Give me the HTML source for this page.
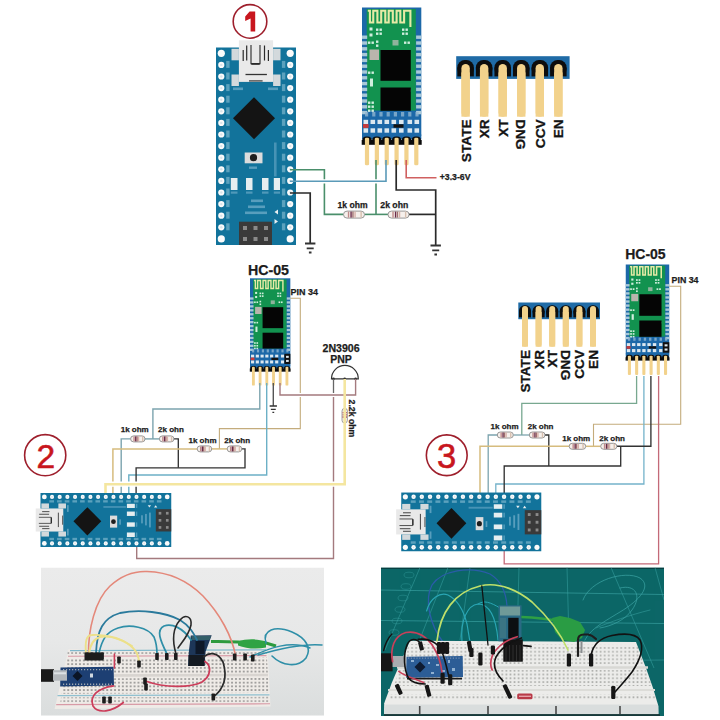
<!DOCTYPE html><html><head><meta charset="utf-8"><style>html,body{margin:0;padding:0;background:#fff;overflow:hidden;}svg{display:block;}</style></head><body>
<svg width="720" height="720" viewBox="0 0 720 720">
<defs>
<g id="nano">
<rect x="0" y="0" width="80" height="197.5" fill="#12739b"/>
<rect x="15.5" y="1.3" width="7.4" height="11.5" fill="#d3d9dc"/>
<rect x="57.1" y="1.3" width="7.4" height="11.5" fill="#d3d9dc"/>
<rect x="15.5" y="27" width="7.4" height="11.5" fill="#d3d9dc"/>
<rect x="57.1" y="27" width="7.4" height="11.5" fill="#d3d9dc"/>
<rect x="22.9" y="-7.2" width="34.2" height="41.6" fill="#e9e9e9"/>
<path d="M27.2,2.5 v11 M30.7,-2 v15 M48.5,-2 v15 M52.4,2.5 v11" stroke="#2a2a2a" stroke-width="1.2" fill="none"/>
<path d="M35,-2.5 V16.2 H44 V-2.5" stroke="#2a2a2a" stroke-width="1.1" fill="none"/>
<path d="M35.3,16.4 H43.7" stroke="#2a2a2a" stroke-width="1.8"/>
<path d="M29.5,27 H50.9" stroke="#333" stroke-width="1.3"/>
<path d="M33,33.4 H46.6" stroke="#444" stroke-width="1.3"/>
<circle cx="5.3" cy="5.80" r="3.6" fill="#fbfbfb"/>
<circle cx="74.2" cy="5.80" r="3.6" fill="#fbfbfb"/>
<circle cx="5.3" cy="17.40" r="3.1" fill="#fbfbfb"/>
<circle cx="5.3" cy="17.40" r="1.2" fill="#d9e4ea"/>
<circle cx="74.2" cy="17.40" r="3.1" fill="#fbfbfb"/>
<circle cx="74.2" cy="17.40" r="1.2" fill="#d9e4ea"/>
<circle cx="5.3" cy="29.00" r="3.1" fill="#fbfbfb"/>
<circle cx="5.3" cy="29.00" r="1.2" fill="#d9e4ea"/>
<circle cx="74.2" cy="29.00" r="3.1" fill="#fbfbfb"/>
<circle cx="74.2" cy="29.00" r="1.2" fill="#d9e4ea"/>
<circle cx="5.3" cy="40.60" r="3.1" fill="#fbfbfb"/>
<circle cx="5.3" cy="40.60" r="1.2" fill="#d9e4ea"/>
<circle cx="74.2" cy="40.60" r="3.1" fill="#fbfbfb"/>
<circle cx="74.2" cy="40.60" r="1.2" fill="#d9e4ea"/>
<circle cx="5.3" cy="52.20" r="3.1" fill="#fbfbfb"/>
<circle cx="5.3" cy="52.20" r="1.2" fill="#d9e4ea"/>
<circle cx="74.2" cy="52.20" r="3.1" fill="#fbfbfb"/>
<circle cx="74.2" cy="52.20" r="1.2" fill="#d9e4ea"/>
<circle cx="5.3" cy="63.80" r="3.1" fill="#fbfbfb"/>
<circle cx="5.3" cy="63.80" r="1.2" fill="#d9e4ea"/>
<circle cx="74.2" cy="63.80" r="3.1" fill="#fbfbfb"/>
<circle cx="74.2" cy="63.80" r="1.2" fill="#d9e4ea"/>
<circle cx="5.3" cy="75.40" r="3.1" fill="#fbfbfb"/>
<circle cx="5.3" cy="75.40" r="1.2" fill="#d9e4ea"/>
<circle cx="74.2" cy="75.40" r="3.1" fill="#fbfbfb"/>
<circle cx="74.2" cy="75.40" r="1.2" fill="#d9e4ea"/>
<circle cx="5.3" cy="87.00" r="3.1" fill="#fbfbfb"/>
<circle cx="5.3" cy="87.00" r="1.2" fill="#d9e4ea"/>
<circle cx="74.2" cy="87.00" r="3.1" fill="#fbfbfb"/>
<circle cx="74.2" cy="87.00" r="1.2" fill="#d9e4ea"/>
<circle cx="5.3" cy="98.60" r="3.1" fill="#fbfbfb"/>
<circle cx="5.3" cy="98.60" r="1.2" fill="#d9e4ea"/>
<circle cx="74.2" cy="98.60" r="3.1" fill="#fbfbfb"/>
<circle cx="74.2" cy="98.60" r="1.2" fill="#d9e4ea"/>
<circle cx="5.3" cy="110.20" r="3.1" fill="#fbfbfb"/>
<circle cx="5.3" cy="110.20" r="1.2" fill="#d9e4ea"/>
<circle cx="74.2" cy="110.20" r="3.1" fill="#fbfbfb"/>
<circle cx="74.2" cy="110.20" r="1.2" fill="#d9e4ea"/>
<circle cx="5.3" cy="121.80" r="3.1" fill="#fbfbfb"/>
<circle cx="5.3" cy="121.80" r="1.2" fill="#d9e4ea"/>
<circle cx="74.2" cy="121.80" r="3.1" fill="#fbfbfb"/>
<circle cx="74.2" cy="121.80" r="1.2" fill="#d9e4ea"/>
<circle cx="5.3" cy="133.40" r="3.1" fill="#fbfbfb"/>
<circle cx="5.3" cy="133.40" r="1.2" fill="#d9e4ea"/>
<circle cx="74.2" cy="133.40" r="3.1" fill="#fbfbfb"/>
<circle cx="74.2" cy="133.40" r="1.2" fill="#d9e4ea"/>
<circle cx="5.3" cy="145.00" r="3.1" fill="#fbfbfb"/>
<circle cx="5.3" cy="145.00" r="1.2" fill="#d9e4ea"/>
<circle cx="74.2" cy="145.00" r="3.1" fill="#fbfbfb"/>
<circle cx="74.2" cy="145.00" r="1.2" fill="#d9e4ea"/>
<circle cx="5.3" cy="156.60" r="3.1" fill="#fbfbfb"/>
<circle cx="5.3" cy="156.60" r="1.2" fill="#d9e4ea"/>
<circle cx="74.2" cy="156.60" r="3.1" fill="#fbfbfb"/>
<circle cx="74.2" cy="156.60" r="1.2" fill="#d9e4ea"/>
<circle cx="5.3" cy="168.20" r="3.1" fill="#fbfbfb"/>
<circle cx="5.3" cy="168.20" r="1.2" fill="#d9e4ea"/>
<circle cx="74.2" cy="168.20" r="3.1" fill="#fbfbfb"/>
<circle cx="74.2" cy="168.20" r="1.2" fill="#d9e4ea"/>
<circle cx="5.3" cy="179.80" r="3.1" fill="#fbfbfb"/>
<circle cx="5.3" cy="179.80" r="1.2" fill="#d9e4ea"/>
<circle cx="74.2" cy="179.80" r="3.1" fill="#fbfbfb"/>
<circle cx="74.2" cy="179.80" r="1.2" fill="#d9e4ea"/>
<circle cx="5.3" cy="191.40" r="3.6" fill="#fbfbfb"/>
<circle cx="74.2" cy="191.40" r="3.6" fill="#fbfbfb"/>
<rect x="10.2" y="13.40" width="3.4" height="7" fill="#74b0c8" opacity="0.75"/>
<rect x="65.9" y="13.40" width="3.4" height="7" fill="#74b0c8" opacity="0.75"/>
<rect x="10.2" y="25.00" width="3.4" height="7" fill="#74b0c8" opacity="0.75"/>
<rect x="65.9" y="25.00" width="3.4" height="7" fill="#74b0c8" opacity="0.75"/>
<rect x="10.2" y="36.60" width="3.4" height="7" fill="#74b0c8" opacity="0.75"/>
<rect x="65.9" y="36.60" width="3.4" height="7" fill="#74b0c8" opacity="0.75"/>
<rect x="10.2" y="48.20" width="3.4" height="7" fill="#74b0c8" opacity="0.75"/>
<rect x="65.9" y="48.20" width="3.4" height="7" fill="#74b0c8" opacity="0.75"/>
<rect x="10.2" y="59.80" width="3.4" height="7" fill="#74b0c8" opacity="0.75"/>
<rect x="65.9" y="59.80" width="3.4" height="7" fill="#74b0c8" opacity="0.75"/>
<rect x="10.2" y="71.40" width="3.4" height="7" fill="#74b0c8" opacity="0.75"/>
<rect x="65.9" y="71.40" width="3.4" height="7" fill="#74b0c8" opacity="0.75"/>
<rect x="10.2" y="83.00" width="3.4" height="7" fill="#74b0c8" opacity="0.75"/>
<rect x="65.9" y="83.00" width="3.4" height="7" fill="#74b0c8" opacity="0.75"/>
<rect x="10.2" y="94.60" width="3.4" height="7" fill="#74b0c8" opacity="0.75"/>
<rect x="65.9" y="94.60" width="3.4" height="7" fill="#74b0c8" opacity="0.75"/>
<rect x="10.2" y="106.20" width="3.4" height="7" fill="#74b0c8" opacity="0.75"/>
<rect x="65.9" y="106.20" width="3.4" height="7" fill="#74b0c8" opacity="0.75"/>
<rect x="10.2" y="117.80" width="3.4" height="7" fill="#74b0c8" opacity="0.75"/>
<rect x="65.9" y="117.80" width="3.4" height="7" fill="#74b0c8" opacity="0.75"/>
<rect x="10.2" y="129.40" width="3.4" height="7" fill="#74b0c8" opacity="0.75"/>
<rect x="65.9" y="129.40" width="3.4" height="7" fill="#74b0c8" opacity="0.75"/>
<rect x="10.2" y="141.00" width="3.4" height="7" fill="#74b0c8" opacity="0.75"/>
<rect x="65.9" y="141.00" width="3.4" height="7" fill="#74b0c8" opacity="0.75"/>
<rect x="10.2" y="152.60" width="3.4" height="7" fill="#74b0c8" opacity="0.75"/>
<rect x="65.9" y="152.60" width="3.4" height="7" fill="#74b0c8" opacity="0.75"/>
<rect x="10.2" y="164.20" width="3.4" height="7" fill="#74b0c8" opacity="0.75"/>
<rect x="65.9" y="164.20" width="3.4" height="7" fill="#74b0c8" opacity="0.75"/>
<rect x="10.2" y="175.80" width="3.4" height="7" fill="#74b0c8" opacity="0.75"/>
<rect x="65.9" y="175.80" width="3.4" height="7" fill="#74b0c8" opacity="0.75"/>
<rect x="17" y="40" width="10" height="2.6" fill="#6aa9c6" opacity="0.8"/>
<rect x="52" y="40" width="10" height="2.6" fill="#6aa9c6" opacity="0.8"/>
<polygon points="38,49.8 59,70.8 38,91.8 17,70.8" fill="#141414"/>
<rect x="28.7" y="105" width="17.8" height="10.8" fill="#dcdcdc"/>
<circle cx="37.5" cy="110.2" r="3.6" fill="#1e1e1e"/>
<rect x="33" y="119" width="8" height="2.4" fill="#6aa9c6" opacity="0.8"/>
<rect x="58" y="95" width="2.6" height="34" fill="#6aa9c6" opacity="0.6"/>
<rect x="14.8" y="130.5" width="6.699999999999999" height="12" fill="#e6eef0"/>
<rect x="14.8" y="144" width="6.699999999999999" height="2.2" fill="#6aa9c6" opacity="0.7"/>
<rect x="30" y="130.5" width="6.5" height="12" fill="#e6eef0"/>
<rect x="30" y="144" width="6.5" height="2.2" fill="#6aa9c6" opacity="0.7"/>
<rect x="46" y="130.5" width="6.5" height="12" fill="#e6eef0"/>
<rect x="46" y="144" width="6.5" height="2.2" fill="#6aa9c6" opacity="0.7"/>
<rect x="57.8" y="130.5" width="6.200000000000003" height="12" fill="#e6eef0"/>
<rect x="57.8" y="144" width="6.200000000000003" height="2.2" fill="#6aa9c6" opacity="0.7"/>
<rect x="35" y="152" width="12" height="2.6" fill="#6aa9c6" opacity="0.8"/>
<rect x="32" y="158" width="17" height="2.6" fill="#6aa9c6" opacity="0.8"/>
<rect x="29" y="164" width="22" height="2.6" fill="#6aa9c6" opacity="0.8"/>
<polygon points="58.5,164.5 62,162 62,167" fill="#e8eef0"/>
<polygon points="62,174 58.5,171.5 58.5,176.5" fill="#e8eef0"/>
<rect x="23" y="174.2" width="33" height="23.3" fill="#3a3a3a"/>
<rect x="27" y="178.5" width="4" height="4" fill="#8a8a8a"/>
<rect x="27" y="189.5" width="4" height="4" fill="#8a8a8a"/>
<rect x="37.5" y="178.5" width="4" height="4" fill="#8a8a8a"/>
<rect x="37.5" y="189.5" width="4" height="4" fill="#8a8a8a"/>
<rect x="48" y="178.5" width="4" height="4" fill="#8a8a8a"/>
<rect x="48" y="189.5" width="4" height="4" fill="#8a8a8a"/>
</g>
<g id="hc">
<rect x="0" y="0" width="59.3" height="128.3" fill="#1c68a8"/>
<rect x="4.7" y="1.5" width="49.1" height="101.5" fill="#12924f"/>
<rect x="0" y="28.00" width="5.2" height="3.4" fill="#a8c8d8"/>
<rect x="54.1" y="28.00" width="5.2" height="3.4" fill="#a8c8d8"/>
<rect x="0" y="33.80" width="5.2" height="3.4" fill="#a8c8d8"/>
<rect x="54.1" y="33.80" width="5.2" height="3.4" fill="#a8c8d8"/>
<rect x="0" y="39.60" width="5.2" height="3.4" fill="#a8c8d8"/>
<rect x="54.1" y="39.60" width="5.2" height="3.4" fill="#a8c8d8"/>
<rect x="0" y="45.40" width="5.2" height="3.4" fill="#a8c8d8"/>
<rect x="54.1" y="45.40" width="5.2" height="3.4" fill="#a8c8d8"/>
<rect x="0" y="51.20" width="5.2" height="3.4" fill="#a8c8d8"/>
<rect x="54.1" y="51.20" width="5.2" height="3.4" fill="#a8c8d8"/>
<rect x="0" y="57.00" width="5.2" height="3.4" fill="#a8c8d8"/>
<rect x="54.1" y="57.00" width="5.2" height="3.4" fill="#a8c8d8"/>
<rect x="0" y="62.80" width="5.2" height="3.4" fill="#a8c8d8"/>
<rect x="54.1" y="62.80" width="5.2" height="3.4" fill="#a8c8d8"/>
<rect x="0" y="68.60" width="5.2" height="3.4" fill="#a8c8d8"/>
<rect x="54.1" y="68.60" width="5.2" height="3.4" fill="#a8c8d8"/>
<rect x="0" y="74.40" width="5.2" height="3.4" fill="#a8c8d8"/>
<rect x="54.1" y="74.40" width="5.2" height="3.4" fill="#a8c8d8"/>
<rect x="0" y="80.20" width="5.2" height="3.4" fill="#a8c8d8"/>
<rect x="54.1" y="80.20" width="5.2" height="3.4" fill="#a8c8d8"/>
<rect x="0" y="86.00" width="5.2" height="3.4" fill="#a8c8d8"/>
<rect x="54.1" y="86.00" width="5.2" height="3.4" fill="#a8c8d8"/>
<rect x="0" y="91.80" width="5.2" height="3.4" fill="#a8c8d8"/>
<rect x="54.1" y="91.80" width="5.2" height="3.4" fill="#a8c8d8"/>
<rect x="0" y="97.60" width="5.2" height="3.4" fill="#a8c8d8"/>
<rect x="54.1" y="97.60" width="5.2" height="3.4" fill="#a8c8d8"/>
<rect x="0" y="103.40" width="5.2" height="3.4" fill="#a8c8d8"/>
<rect x="54.1" y="103.40" width="5.2" height="3.4" fill="#a8c8d8"/>
<path d="M5.8,3.3 H7.9 V15 H11.25 V3.3 H15.4 V15 H19.2 V3.3 H23.3 V15 H26.7 V3.3 H30.8 V15 H34.6 V3.3 H38.3 V15 H42.1 V3.3 H48.4 V15 V19.5" stroke="#e6eaa6" stroke-width="2.1" fill="none" stroke-linejoin="miter"/>
<rect x="7.5" y="20" width="3" height="3" fill="#cfeedd"/>
<rect x="7.5" y="26" width="3" height="3" fill="#cfeedd"/>
<rect x="14" y="21" width="2.4" height="2.4" fill="#cfeedd"/>
<rect x="17.5" y="21" width="2.4" height="2.4" fill="#cfeedd"/>
<rect x="14" y="25" width="2.4" height="2.4" fill="#cfeedd"/>
<rect x="17.5" y="25" width="2.4" height="2.4" fill="#cfeedd"/>
<rect x="40" y="21" width="2.4" height="2.4" fill="#cfeedd"/>
<rect x="43.5" y="21" width="2.4" height="2.4" fill="#cfeedd"/>
<rect x="40" y="25" width="2.4" height="2.4" fill="#cfeedd"/>
<rect x="43.5" y="25" width="2.4" height="2.4" fill="#cfeedd"/>
<rect x="6" y="34" width="2.4" height="2.4" fill="#cfeedd"/>
<rect x="9.5" y="34" width="2.4" height="2.4" fill="#cfeedd"/>
<rect x="14" y="33" width="2.4" height="2.4" fill="#cfeedd"/>
<rect x="14" y="37" width="2.4" height="2.4" fill="#cfeedd"/>
<rect x="42" y="34" width="2.4" height="2.4" fill="#cfeedd"/>
<rect x="45.5" y="34" width="2.4" height="2.4" fill="#cfeedd"/>
<rect x="6" y="64" width="2.4" height="2.4" fill="#cfeedd"/>
<rect x="9.5" y="64" width="2.4" height="2.4" fill="#cfeedd"/>
<rect x="8" y="71" width="3" height="8" fill="#cfeedd"/>
<rect x="22" y="82" width="2.4" height="2.4" fill="#cfeedd"/>
<rect x="26" y="82" width="2.4" height="2.4" fill="#cfeedd"/>
<rect x="32" y="82" width="2.4" height="2.4" fill="#cfeedd"/>
<rect x="36" y="82" width="2.4" height="2.4" fill="#cfeedd"/>
<rect x="42" y="82" width="2.4" height="2.4" fill="#cfeedd"/>
<rect x="46" y="82" width="2.4" height="2.4" fill="#cfeedd"/>
<rect x="6" y="94" width="2.4" height="2.4" fill="#cfeedd"/>
<rect x="9.5" y="94" width="2.4" height="2.4" fill="#cfeedd"/>
<rect x="6" y="98" width="2.4" height="2.4" fill="#cfeedd"/>
<rect x="9.5" y="98" width="2.4" height="2.4" fill="#cfeedd"/>
<rect x="6" y="102" width="2.4" height="2.4" fill="#cfeedd"/>
<rect x="9.5" y="102" width="2.4" height="2.4" fill="#cfeedd"/>
<rect x="30.5" y="32.5" width="6" height="5.5" fill="#8fb39c"/>
<rect x="7.5" y="42" width="9.5" height="10.5" fill="#b9b5ad"/>
<rect x="18.5" y="42.5" width="30.3" height="30.8" fill="#050505"/>
<rect x="18.5" y="80" width="30.3" height="23.3" fill="#050505"/>
<rect x="3.00" y="104.5" width="3.2" height="4.5" fill="#8fb4cf" opacity="0.8"/>
<rect x="10.20" y="104.5" width="3.2" height="4.5" fill="#8fb4cf" opacity="0.8"/>
<rect x="17.40" y="104.5" width="3.2" height="4.5" fill="#8fb4cf" opacity="0.8"/>
<rect x="24.60" y="104.5" width="3.2" height="4.5" fill="#8fb4cf" opacity="0.8"/>
<rect x="31.80" y="104.5" width="3.2" height="4.5" fill="#8fb4cf" opacity="0.8"/>
<rect x="39.00" y="104.5" width="3.2" height="4.5" fill="#8fb4cf" opacity="0.8"/>
<rect x="46.20" y="104.5" width="3.2" height="4.5" fill="#8fb4cf" opacity="0.8"/>
<rect x="53.40" y="104.5" width="3.2" height="4.5" fill="#8fb4cf" opacity="0.8"/>
<rect x="1.5" y="112.3" width="4.6" height="4.2" fill="#dce8f0"/>
<rect x="1.5" y="120.8" width="4.6" height="4.4" fill="#dce8f0"/>
<rect x="8.5" y="112.3" width="4.6" height="4.2" fill="#dce8f0"/>
<rect x="8.5" y="120.8" width="4.6" height="4.4" fill="#dce8f0"/>
<rect x="15.5" y="112.3" width="4.6" height="4.2" fill="#dce8f0"/>
<rect x="15.5" y="120.8" width="4.6" height="4.4" fill="#dce8f0"/>
<rect x="22.5" y="112.3" width="4.6" height="4.2" fill="#dce8f0"/>
<rect x="22.5" y="120.8" width="4.6" height="4.4" fill="#dce8f0"/>
<rect x="29.5" y="112.3" width="4.6" height="4.2" fill="#dce8f0"/>
<rect x="29.5" y="120.8" width="4.6" height="4.4" fill="#dce8f0"/>
<rect x="37" y="112.3" width="4.6" height="4.2" fill="#dce8f0"/>
<rect x="37" y="120.8" width="4.6" height="4.4" fill="#dce8f0"/>
<rect x="45.5" y="112.3" width="4.6" height="4.2" fill="#dce8f0"/>
<rect x="45.5" y="120.8" width="4.6" height="4.4" fill="#dce8f0"/>
<rect x="52.5" y="112.3" width="4.6" height="4.2" fill="#dce8f0"/>
<rect x="52.5" y="120.8" width="4.6" height="4.4" fill="#dce8f0"/>
<rect x="1" y="116.6" width="5.6" height="3.8" fill="#c83a3a"/>
<rect x="31.5" y="116.8" width="10" height="3.4" fill="#111"/>
<rect x="0" y="127" width="59.3" height="5" fill="#1c68a8"/>
<rect x="-0.3" y="132.5" width="60" height="4.8" fill="#0c0c0c"/>
<rect x="0.30" y="129" width="9.4" height="8" rx="4.2" fill="#0c0c0c"/>
<rect x="10.16" y="129" width="9.4" height="8" rx="4.2" fill="#0c0c0c"/>
<rect x="20.02" y="129" width="9.4" height="8" rx="4.2" fill="#0c0c0c"/>
<rect x="29.88" y="129" width="9.4" height="8" rx="4.2" fill="#0c0c0c"/>
<rect x="39.74" y="129" width="9.4" height="8" rx="4.2" fill="#0c0c0c"/>
<rect x="49.60" y="129" width="9.4" height="8" rx="4.2" fill="#0c0c0c"/>
<rect x="2.90" y="130.2" width="4.2" height="27.6" rx="1.4" fill="#f2d28c"/>
<rect x="12.76" y="130.2" width="4.2" height="27.6" rx="1.4" fill="#f2d28c"/>
<rect x="22.62" y="130.2" width="4.2" height="27.6" rx="1.4" fill="#f2d28c"/>
<rect x="32.48" y="130.2" width="4.2" height="27.6" rx="1.4" fill="#f2d28c"/>
<rect x="42.34" y="130.2" width="4.2" height="27.6" rx="1.4" fill="#f2d28c"/>
<rect x="52.20" y="130.2" width="4.2" height="27.6" rx="1.4" fill="#f2d28c"/>
</g>
<g id="hcx"><rect x="50.6" y="111" width="8.8" height="15" fill="#101010"/><rect x="53" y="114" width="4" height="3" fill="#dce8f0"/><rect x="53" y="120" width="4" height="3" fill="#dce8f0"/></g>
</defs>
<rect width="720" height="720" fill="#ffffff"/>
<circle cx="250" cy="21.4" r="16.8" fill="none" stroke="#9e1f2c" stroke-width="1.6"/>
<polygon points="249.6,11.6 255.2,11.6 255.2,31.6 250.6,31.6 250.6,18.6 245.2,21 245.2,16.6" fill="#c8161e"/>
<use href="#nano" transform="translate(216,47.5)"/>
<use href="#hc" transform="translate(362,7.5)"/>
<path d="M376,160 L376,214.4" stroke="#4a8f6b" stroke-width="1.6" fill="none" stroke-linejoin="miter"/>
<path d="M290,169.7 L324.4,169.7 L324.4,214.4 L343.5,214.4" stroke="#4a8f6b" stroke-width="1.6" fill="none" stroke-linejoin="miter"/>
<path d="M364.5,214.4 L388,214.4" stroke="#4a8f6b" stroke-width="1.6" fill="none" stroke-linejoin="miter"/>
<path d="M300,181.3 L383,181.3" stroke="#ffffff" stroke-width="4.2" fill="none"/><path d="M290,181.3 L386,181.3 L386,160" stroke="#5a9ab8" stroke-width="1.6" fill="none" stroke-linejoin="miter"/>
<path d="M290,193 L310.2,193 L310.2,243.5" stroke="#2a2a2a" stroke-width="1.7" fill="none" stroke-linejoin="miter"/>
<path d="M305.0,243.5 h10.4 M306.7,248.4 h7.0 M308.9,252.5 h2.6" stroke="#333" stroke-width="1.8"/>
<path d="M396.2,160 L396.2,190 L435.7,190 L435.7,245.5" stroke="#2a2a2a" stroke-width="1.7" fill="none" stroke-linejoin="miter"/>
<path d="M430.5,245.5 h10.4 M432.2,250.4 h7.0 M434.4,254.5 h2.6" stroke="#333" stroke-width="1.8"/>
<path d="M409,214.4 L435.7,214.4" stroke="#2a2a2a" stroke-width="1.7" fill="none" stroke-linejoin="miter"/>
<path d="M406.2,160 L406.2,177.8 L436.5,177.8" stroke="#d06060" stroke-width="1.6" fill="none" stroke-linejoin="miter"/>
<rect x="343.5" y="211.1" width="21.0" height="7" rx="3.5" fill="#f6f0ec" stroke="#8c8c8c" stroke-width="0.9"/>
<rect x="347.84" y="211.6" width="1.4" height="6" fill="#c08a8a"/>
<rect x="350.36" y="211.6" width="1.4" height="6" fill="#6a2a4a"/>
<rect x="352.25" y="211.6" width="1.4" height="6" fill="#a07070"/>
<rect x="354.35" y="211.6" width="1.4" height="6" fill="#d8b0a8"/>
<rect x="360.44" y="211.6" width="1.4" height="6" fill="#d8c0b0"/>
<rect x="388" y="211.1" width="21" height="7" rx="3.5" fill="#f6f0ec" stroke="#8c8c8c" stroke-width="0.9"/>
<rect x="392.34" y="211.6" width="1.4" height="6" fill="#c08a8a"/>
<rect x="394.86" y="211.6" width="1.4" height="6" fill="#6a2a4a"/>
<rect x="396.75" y="211.6" width="1.4" height="6" fill="#a07070"/>
<rect x="398.85" y="211.6" width="1.4" height="6" fill="#d8b0a8"/>
<rect x="404.94" y="211.6" width="1.4" height="6" fill="#d8c0b0"/>
<text x="352.6" y="208" font-family='"Liberation Sans", sans-serif' font-weight="bold" font-size="8.6" fill="#1c1c1c" stroke="#1c1c1c" stroke-width="0.25" text-anchor="middle" >1k ohm</text>
<text x="394.3" y="208" font-family='"Liberation Sans", sans-serif' font-weight="bold" font-size="8.7" fill="#1c1c1c" stroke="#1c1c1c" stroke-width="0.25" text-anchor="middle" >2k ohn</text>
<text x="439.8" y="179.8" font-family='"Liberation Sans", sans-serif' font-weight="bold" font-size="8.7" fill="#1c1c1c" stroke="#1c1c1c" stroke-width="0.25" text-anchor="start" >+3.3-6V</text>
<rect x="456.2" y="56.2" width="113.4" height="22.7" fill="#1f6ba6"/>
<rect x="457.35" y="60.06" width="16.50" height="16.34" rx="7.42" fill="#0d0d0d"/>
<rect x="457.35" y="67.55" width="16.50" height="8.85" fill="#0d0d0d"/>
<rect x="475.90" y="60.06" width="16.50" height="16.34" rx="7.42" fill="#0d0d0d"/>
<rect x="475.90" y="67.55" width="16.50" height="8.85" fill="#0d0d0d"/>
<rect x="494.45" y="60.06" width="16.50" height="16.34" rx="7.42" fill="#0d0d0d"/>
<rect x="494.45" y="67.55" width="16.50" height="8.85" fill="#0d0d0d"/>
<rect x="513.00" y="60.06" width="16.50" height="16.34" rx="7.42" fill="#0d0d0d"/>
<rect x="513.00" y="67.55" width="16.50" height="8.85" fill="#0d0d0d"/>
<rect x="531.55" y="60.06" width="16.50" height="16.34" rx="7.42" fill="#0d0d0d"/>
<rect x="531.55" y="67.55" width="16.50" height="8.85" fill="#0d0d0d"/>
<rect x="550.10" y="60.06" width="16.50" height="16.34" rx="7.42" fill="#0d0d0d"/>
<rect x="550.10" y="67.55" width="16.50" height="8.85" fill="#0d0d0d"/>
<rect x="461.40" y="64" width="8.4" height="52.7" rx="4.20" fill="#f2d28c"/>
<rect x="461.40" y="72.4" width="8.4" height="44.300000000000004" fill="#f2d28c"/>
<rect x="479.95" y="64" width="8.4" height="52.7" rx="4.20" fill="#f2d28c"/>
<rect x="479.95" y="72.4" width="8.4" height="44.300000000000004" fill="#f2d28c"/>
<rect x="498.50" y="64" width="8.4" height="52.7" rx="4.20" fill="#f2d28c"/>
<rect x="498.50" y="72.4" width="8.4" height="44.300000000000004" fill="#f2d28c"/>
<rect x="517.05" y="64" width="8.4" height="52.7" rx="4.20" fill="#f2d28c"/>
<rect x="517.05" y="72.4" width="8.4" height="44.300000000000004" fill="#f2d28c"/>
<rect x="535.60" y="64" width="8.4" height="52.7" rx="4.20" fill="#f2d28c"/>
<rect x="535.60" y="72.4" width="8.4" height="44.300000000000004" fill="#f2d28c"/>
<rect x="554.15" y="64" width="8.4" height="52.7" rx="4.20" fill="#f2d28c"/>
<rect x="554.15" y="72.4" width="8.4" height="44.300000000000004" fill="#f2d28c"/>
<text x="0" y="0" transform="translate(470.59,119.3) rotate(-90)" text-anchor="end" font-family='"Liberation Sans", sans-serif' font-weight="bold" font-size="13.7" fill="#141414" stroke="#141414" stroke-width="0.3">STATE</text>
<text x="0" y="0" transform="translate(489.14,119.3) rotate(-90)" text-anchor="end" font-family='"Liberation Sans", sans-serif' font-weight="bold" font-size="13.7" fill="#141414" stroke="#141414" stroke-width="0.3">XR</text>
<text x="0" y="0" transform="translate(507.69,119.3) rotate(-90)" text-anchor="end" font-family='"Liberation Sans", sans-serif' font-weight="bold" font-size="13.7" fill="#141414" stroke="#141414" stroke-width="0.3">XT</text>
<text x="0" y="0" transform="translate(516.26,119.3) rotate(90)" text-anchor="start" font-family='"Liberation Sans", sans-serif' font-weight="bold" font-size="13.7" fill="#141414" stroke="#141414" stroke-width="0.3">DNG</text>
<text x="0" y="0" transform="translate(544.79,119.3) rotate(-90)" text-anchor="end" font-family='"Liberation Sans", sans-serif' font-weight="bold" font-size="13.7" fill="#141414" stroke="#141414" stroke-width="0.3">CCV</text>
<text x="0" y="0" transform="translate(563.34,119.3) rotate(-90)" text-anchor="end" font-family='"Liberation Sans", sans-serif' font-weight="bold" font-size="13.7" fill="#141414" stroke="#141414" stroke-width="0.3">EN</text>
<circle cx="45.2" cy="455.2" r="20.6" fill="none" stroke="#9e1f2c" stroke-width="1.6"/><text x="45.7" y="467.5" font-family='"Liberation Sans", sans-serif' font-size="33.5" font-weight="normal" fill="#c8161e" stroke="#c8161e" stroke-width="0.6" text-anchor="middle">2</text>
<text x="268.5" y="274.8" font-family='"Liberation Sans", sans-serif' font-weight="bold" font-size="14.2" fill="#1c1c1c" stroke="#1c1c1c" stroke-width="0.25" text-anchor="middle" >HC-05</text>
<g transform="translate(250,278.3) scale(0.68)"><use href="#hc"/><use href="#hcx"/></g>
<text x="290.6" y="295.3" font-family='"Liberation Sans", sans-serif' font-weight="bold" font-size="9.0" fill="#1c1c1c" stroke="#1c1c1c" stroke-width="0.25" text-anchor="start" >PIN 34</text>
<text x="341.1" y="351.5" font-family='"Liberation Sans", sans-serif' font-weight="bold" font-size="10.6" fill="#1c1c1c" stroke="#1c1c1c" stroke-width="0.25" text-anchor="middle" >2N3906</text>
<text x="341" y="362.6" font-family='"Liberation Sans", sans-serif' font-weight="bold" font-size="10.5" fill="#1c1c1c" stroke="#1c1c1c" stroke-width="0.25" text-anchor="middle" >PNP</text>
<path d="M331.5,378.8 A13.4,13.4 0 0 1 358.3,378.8 Z" fill="#fff" stroke="#333" stroke-width="1.2"/>
<circle cx="333.5" cy="378.8" r="1.3" fill="#333"/><circle cx="344.7" cy="378.8" r="1.3" fill="#333"/><circle cx="355.6" cy="378.8" r="1.3" fill="#333"/>
<path d="M290.4,298.3 L300.3,298.3 L300.3,428.6 L219.4,428.6 L219.4,449" stroke="#c4ac7c" stroke-width="1.1" fill="none" stroke-linejoin="miter"/>
<path d="M259.8,383 L259.8,409 L152.9,409 L152.9,438.9" stroke="#7ca4ae" stroke-width="1.4" fill="none" stroke-linejoin="miter"/>
<path d="M266.7,383 L266.7,475 L128.8,475 L128.8,496" stroke="#6cb0c6" stroke-width="1.4" fill="none" stroke-linejoin="miter"/>
<path d="M273.3,383 L273.3,406" stroke="#555" stroke-width="1.4" fill="none" stroke-linejoin="miter"/>
<path d="M269.66,406 h7.279999999999999 M270.85,409.43 h4.8999999999999995 M272.39,412.3 h1.8199999999999998" stroke="#333" stroke-width="1.26"/>
<path d="M333.5,379 L333.5,395" stroke="#666" stroke-width="1.3" fill="none" stroke-linejoin="miter"/>
<path d="M333.5,395 L333.5,558.5 L136.7,558.5 L136.7,546" stroke="#a47a7e" stroke-width="1.4" fill="none" stroke-linejoin="miter"/>
<path d="M290,395 L350,395" stroke="#ffffff" stroke-width="4.0" fill="none"/><path d="M280,383 L280,395 L355.6,395 L355.6,379" stroke="#a47a7e" stroke-width="1.4" fill="none" stroke-linejoin="miter"/>
<rect x="342" y="408.3" width="5.4" height="14.7" rx="2.7" fill="#f6f0ec" stroke="#8c8c8c" stroke-width="0.8"/>
<rect x="342.4" y="412" width="4.6" height="1.3" fill="#c07070"/><rect x="342.4" y="414.2" width="4.6" height="1.3" fill="#c07070"/><rect x="342.4" y="416.4" width="4.6" height="1.3" fill="#b05050"/>
<text x="0" y="0" transform="translate(349.3,399.6) rotate(90)" font-family='"Liberation Sans", sans-serif' font-weight="bold" font-size="8.7" fill="#1c1c1c" stroke="#1c1c1c" stroke-width="0.25">2.2k ohm</text>
<path d="M121.2,496 L121.2,438.9 L130.6,438.9" stroke="#7ca4ae" stroke-width="1.4" fill="none" stroke-linejoin="miter"/>
<path d="M145,438.9 L159.4,438.9" stroke="#7ca4ae" stroke-width="1.4" fill="none" stroke-linejoin="miter"/>
<path d="M173.9,438.9 L178.3,438.9 L178.3,467.8" stroke="#333" stroke-width="1.35" fill="none" stroke-linejoin="miter"/>
<rect x="130.6" y="435.9" width="14.400000000000006" height="6" rx="3.0" fill="#f6f0ec" stroke="#8c8c8c" stroke-width="0.9"/>
<rect x="133.36" y="436.4" width="1.4" height="5" fill="#c08a8a"/>
<rect x="135.08" y="436.4" width="1.4" height="5" fill="#6a2a4a"/>
<rect x="136.38" y="436.4" width="1.4" height="5" fill="#a07070"/>
<rect x="137.82" y="436.4" width="1.4" height="5" fill="#d8b0a8"/>
<rect x="142.00" y="436.4" width="1.4" height="5" fill="#d8c0b0"/>
<rect x="159.4" y="435.9" width="14.5" height="6" rx="3.0" fill="#f6f0ec" stroke="#8c8c8c" stroke-width="0.9"/>
<rect x="162.18" y="436.4" width="1.4" height="5" fill="#c08a8a"/>
<rect x="163.92" y="436.4" width="1.4" height="5" fill="#6a2a4a"/>
<rect x="165.23" y="436.4" width="1.4" height="5" fill="#a07070"/>
<rect x="166.68" y="436.4" width="1.4" height="5" fill="#d8b0a8"/>
<rect x="170.88" y="436.4" width="1.4" height="5" fill="#d8c0b0"/>
<text x="134.7" y="432.2" font-family='"Liberation Sans", sans-serif' font-weight="bold" font-size="8.0" fill="#1c1c1c" stroke="#1c1c1c" stroke-width="0.25" text-anchor="middle" >1k ohm</text>
<text x="171" y="432.2" font-family='"Liberation Sans", sans-serif' font-weight="bold" font-size="8.0" fill="#1c1c1c" stroke="#1c1c1c" stroke-width="0.25" text-anchor="middle" >2k ohn</text>
<path d="M112.9,496 L112.9,448.9 L197.2,448.9" stroke="#d6bc7e" stroke-width="1.5" fill="none" stroke-linejoin="miter"/>
<path d="M211.7,448.9 L227.2,448.9" stroke="#d6bc7e" stroke-width="1.5" fill="none" stroke-linejoin="miter"/>
<path d="M241.7,448.9 L245,448.9 L245,467.8 L136.1,467.8 L136.1,496" stroke="#333" stroke-width="1.35" fill="none" stroke-linejoin="miter"/>
<rect x="197.2" y="445.9" width="14.5" height="6" rx="3.0" fill="#f6f0ec" stroke="#8c8c8c" stroke-width="0.9"/>
<rect x="199.98" y="446.4" width="1.4" height="5" fill="#c08a8a"/>
<rect x="201.72" y="446.4" width="1.4" height="5" fill="#6a2a4a"/>
<rect x="203.03" y="446.4" width="1.4" height="5" fill="#a07070"/>
<rect x="204.47" y="446.4" width="1.4" height="5" fill="#d8b0a8"/>
<rect x="208.68" y="446.4" width="1.4" height="5" fill="#d8c0b0"/>
<rect x="227.2" y="445.9" width="14.5" height="6" rx="3.0" fill="#f6f0ec" stroke="#8c8c8c" stroke-width="0.9"/>
<rect x="229.98" y="446.4" width="1.4" height="5" fill="#c08a8a"/>
<rect x="231.72" y="446.4" width="1.4" height="5" fill="#6a2a4a"/>
<rect x="233.03" y="446.4" width="1.4" height="5" fill="#a07070"/>
<rect x="234.47" y="446.4" width="1.4" height="5" fill="#d8b0a8"/>
<rect x="238.68" y="446.4" width="1.4" height="5" fill="#d8c0b0"/>
<text x="202.5" y="443.3" font-family='"Liberation Sans", sans-serif' font-weight="bold" font-size="8.0" fill="#1c1c1c" stroke="#1c1c1c" stroke-width="0.25" text-anchor="middle" >1k ohm</text>
<text x="237.2" y="443.3" font-family='"Liberation Sans", sans-serif' font-weight="bold" font-size="8.0" fill="#1c1c1c" stroke="#1c1c1c" stroke-width="0.25" text-anchor="middle" >2k ohn</text>
<path d="M110,484.2 L340,484.2" stroke="#ffffff" stroke-width="5.2" fill="none"/><path d="M344.7,379 L344.7,484.2 L105.5,484.2 L105.5,496" stroke="#f4e6a0" stroke-width="2.6" fill="none" stroke-linejoin="miter"/>
<use href="#nano" transform="translate(40.5,547) scale(0.662,0.675) rotate(-90)"/>
<circle cx="446.75" cy="455.25" r="20.4" fill="none" stroke="#9e1f2c" stroke-width="1.6"/><text x="446.5" y="467.8" font-family='"Liberation Sans", sans-serif' font-size="34.5" font-weight="normal" fill="#c8161e" stroke="#c8161e" stroke-width="0.6" text-anchor="middle">3</text>
<text x="645.4" y="259" font-family='"Liberation Sans", sans-serif' font-weight="bold" font-size="14.0" fill="#1c1c1c" stroke="#1c1c1c" stroke-width="0.25" text-anchor="middle" >HC-05</text>
<g transform="translate(625.75,264.5) scale(0.733,0.70)"><use href="#hc"/><use href="#hcx"/></g>
<text x="671.6" y="283.4" font-family='"Liberation Sans", sans-serif' font-weight="bold" font-size="8.8" fill="#1c1c1c" stroke="#1c1c1c" stroke-width="0.25" text-anchor="start" >PIN 34</text>
<rect x="518.3" y="302.5" width="81.7" height="16.7" fill="#1f6ba6"/>
<rect x="519.00" y="305.34" width="12.00" height="12.02" rx="5.40" fill="#0d0d0d"/>
<rect x="519.00" y="310.85" width="12.00" height="6.51" fill="#0d0d0d"/>
<rect x="532.60" y="305.34" width="12.00" height="12.02" rx="5.40" fill="#0d0d0d"/>
<rect x="532.60" y="310.85" width="12.00" height="6.51" fill="#0d0d0d"/>
<rect x="546.20" y="305.34" width="12.00" height="12.02" rx="5.40" fill="#0d0d0d"/>
<rect x="546.20" y="310.85" width="12.00" height="6.51" fill="#0d0d0d"/>
<rect x="559.80" y="305.34" width="12.00" height="12.02" rx="5.40" fill="#0d0d0d"/>
<rect x="559.80" y="310.85" width="12.00" height="6.51" fill="#0d0d0d"/>
<rect x="573.40" y="305.34" width="12.00" height="12.02" rx="5.40" fill="#0d0d0d"/>
<rect x="573.40" y="310.85" width="12.00" height="6.51" fill="#0d0d0d"/>
<rect x="587.00" y="305.34" width="12.00" height="12.02" rx="5.40" fill="#0d0d0d"/>
<rect x="587.00" y="310.85" width="12.00" height="6.51" fill="#0d0d0d"/>
<rect x="522.00" y="306" width="6" height="40.69999999999999" rx="3.00" fill="#f2d28c"/>
<rect x="522.00" y="312" width="6" height="34.69999999999999" fill="#f2d28c"/>
<rect x="535.60" y="306" width="6" height="40.69999999999999" rx="3.00" fill="#f2d28c"/>
<rect x="535.60" y="312" width="6" height="34.69999999999999" fill="#f2d28c"/>
<rect x="549.20" y="306" width="6" height="40.69999999999999" rx="3.00" fill="#f2d28c"/>
<rect x="549.20" y="312" width="6" height="34.69999999999999" fill="#f2d28c"/>
<rect x="562.80" y="306" width="6" height="40.69999999999999" rx="3.00" fill="#f2d28c"/>
<rect x="562.80" y="312" width="6" height="34.69999999999999" fill="#f2d28c"/>
<rect x="576.40" y="306" width="6" height="40.69999999999999" rx="3.00" fill="#f2d28c"/>
<rect x="576.40" y="312" width="6" height="34.69999999999999" fill="#f2d28c"/>
<rect x="590.00" y="306" width="6" height="40.69999999999999" rx="3.00" fill="#f2d28c"/>
<rect x="590.00" y="312" width="6" height="34.69999999999999" fill="#f2d28c"/>
<text x="0" y="0" transform="translate(529.96,350) rotate(-90)" text-anchor="end" font-family='"Liberation Sans", sans-serif' font-weight="bold" font-size="13.6" fill="#141414" stroke="#141414" stroke-width="0.3">STATE</text>
<text x="0" y="0" transform="translate(543.56,350) rotate(-90)" text-anchor="end" font-family='"Liberation Sans", sans-serif' font-weight="bold" font-size="13.6" fill="#141414" stroke="#141414" stroke-width="0.3">XR</text>
<text x="0" y="0" transform="translate(557.16,350) rotate(-90)" text-anchor="end" font-family='"Liberation Sans", sans-serif' font-weight="bold" font-size="13.6" fill="#141414" stroke="#141414" stroke-width="0.3">XT</text>
<text x="0" y="0" transform="translate(560.84,350) rotate(90)" text-anchor="start" font-family='"Liberation Sans", sans-serif' font-weight="bold" font-size="13.6" fill="#141414" stroke="#141414" stroke-width="0.3">DNG</text>
<text x="0" y="0" transform="translate(584.36,350) rotate(-90)" text-anchor="end" font-family='"Liberation Sans", sans-serif' font-weight="bold" font-size="13.6" fill="#141414" stroke="#141414" stroke-width="0.3">CCV</text>
<text x="0" y="0" transform="translate(597.96,350) rotate(-90)" text-anchor="end" font-family='"Liberation Sans", sans-serif' font-weight="bold" font-size="13.6" fill="#141414" stroke="#141414" stroke-width="0.3">EN</text>
<path d="M669.25,286.3 L680.7,286.3 L680.7,424.3 L593.5,424.3 L593.5,446.3" stroke="#c4ac7c" stroke-width="1.1" fill="none" stroke-linejoin="miter"/>
<path d="M636.6,376 L636.6,403.3 L521.8,403.3 L521.8,435" stroke="#78a890" stroke-width="1.3" fill="none" stroke-linejoin="miter"/>
<path d="M643.9,376 L643.9,484 L495.8,484 L495.8,496" stroke="#74b2ca" stroke-width="1.3" fill="none" stroke-linejoin="miter"/>
<path d="M650.9,376 L650.9,446.2 L616.8,446.2" stroke="#333" stroke-width="1.35" fill="none" stroke-linejoin="miter"/>
<path d="M620.7,446.2 L620.7,466 L504.2,466 L504.2,496" stroke="#333" stroke-width="1.35" fill="none" stroke-linejoin="miter"/>
<path d="M545,435 L548.8,435 L548.8,466" stroke="#333" stroke-width="1.35" fill="none" stroke-linejoin="miter"/>
<path d="M658.6,376 L658.6,563.8 L504.2,563.8 L504.2,550" stroke="#c46a78" stroke-width="1.3" fill="none" stroke-linejoin="miter"/>
<path d="M488.2,496 L488.2,435 L497.3,435" stroke="#7ca4ae" stroke-width="1.3" fill="none" stroke-linejoin="miter"/>
<path d="M513.3,435 L529.3,435" stroke="#7ca4ae" stroke-width="1.3" fill="none" stroke-linejoin="miter"/>
<path d="M480,496 L480,446.3 L569.2,446.3" stroke="#d6bc7e" stroke-width="1.5" fill="none" stroke-linejoin="miter"/>
<path d="M585.7,446.3 L600.7,446.3" stroke="#d6bc7e" stroke-width="1.5" fill="none" stroke-linejoin="miter"/>
<rect x="497.3" y="432.0" width="15.999999999999943" height="6" rx="3.0" fill="#f6f0ec" stroke="#8c8c8c" stroke-width="0.9"/>
<rect x="500.44" y="432.5" width="1.4" height="5" fill="#c08a8a"/>
<rect x="502.36" y="432.5" width="1.4" height="5" fill="#6a2a4a"/>
<rect x="503.80" y="432.5" width="1.4" height="5" fill="#a07070"/>
<rect x="505.40" y="432.5" width="1.4" height="5" fill="#d8b0a8"/>
<rect x="510.04" y="432.5" width="1.4" height="5" fill="#d8c0b0"/>
<rect x="529.3" y="432.0" width="15.700000000000045" height="6" rx="3.0" fill="#f6f0ec" stroke="#8c8c8c" stroke-width="0.9"/>
<rect x="532.37" y="432.5" width="1.4" height="5" fill="#c08a8a"/>
<rect x="534.25" y="432.5" width="1.4" height="5" fill="#6a2a4a"/>
<rect x="535.66" y="432.5" width="1.4" height="5" fill="#a07070"/>
<rect x="537.23" y="432.5" width="1.4" height="5" fill="#d8b0a8"/>
<rect x="541.79" y="432.5" width="1.4" height="5" fill="#d8c0b0"/>
<rect x="569.2" y="443.3" width="16.5" height="6" rx="3.0" fill="#f6f0ec" stroke="#8c8c8c" stroke-width="0.9"/>
<rect x="572.46" y="443.8" width="1.4" height="5" fill="#c08a8a"/>
<rect x="574.44" y="443.8" width="1.4" height="5" fill="#6a2a4a"/>
<rect x="575.92" y="443.8" width="1.4" height="5" fill="#a07070"/>
<rect x="577.58" y="443.8" width="1.4" height="5" fill="#d8b0a8"/>
<rect x="582.36" y="443.8" width="1.4" height="5" fill="#d8c0b0"/>
<rect x="600.7" y="443.3" width="16.09999999999991" height="6" rx="3.0" fill="#f6f0ec" stroke="#8c8c8c" stroke-width="0.9"/>
<rect x="603.86" y="443.8" width="1.4" height="5" fill="#c08a8a"/>
<rect x="605.80" y="443.8" width="1.4" height="5" fill="#6a2a4a"/>
<rect x="607.25" y="443.8" width="1.4" height="5" fill="#a07070"/>
<rect x="608.85" y="443.8" width="1.4" height="5" fill="#d8b0a8"/>
<rect x="613.52" y="443.8" width="1.4" height="5" fill="#d8c0b0"/>
<text x="504.6" y="429" font-family='"Liberation Sans", sans-serif' font-weight="bold" font-size="8.0" fill="#1c1c1c" stroke="#1c1c1c" stroke-width="0.25" text-anchor="middle" >1k ohm</text>
<text x="540.6" y="429" font-family='"Liberation Sans", sans-serif' font-weight="bold" font-size="8.0" fill="#1c1c1c" stroke="#1c1c1c" stroke-width="0.25" text-anchor="middle" >2k ohn</text>
<text x="576.2" y="440.5" font-family='"Liberation Sans", sans-serif' font-weight="bold" font-size="8.0" fill="#1c1c1c" stroke="#1c1c1c" stroke-width="0.25" text-anchor="middle" >1k ohm</text>
<text x="612.1" y="440.5" font-family='"Liberation Sans", sans-serif' font-weight="bold" font-size="8.0" fill="#1c1c1c" stroke="#1c1c1c" stroke-width="0.25" text-anchor="middle" >2k ohn</text>
<use href="#nano" transform="translate(401.25,551.25) scale(0.709,0.734) rotate(-90)"/>
<defs>
<linearGradient id="p1bg" x1="0" y1="0" x2="0" y2="1"><stop offset="0" stop-color="#ebebeb"/><stop offset="0.5" stop-color="#e7e8e8"/><stop offset="1" stop-color="#dadddd"/></linearGradient>
<pattern id="p1h" x="0" y="0" width="3.9" height="3.7" patternUnits="userSpaceOnUse"><rect x="1.15" y="1.05" width="1.6" height="1.6" fill="#6e6e6e"/></pattern>
<clipPath id="p1clip"><rect x="41" y="567.5" width="283" height="148.2"/></clipPath>
</defs>
<g clip-path="url(#p1clip)">
<rect x="41" y="567.5" width="283" height="148.2" fill="url(#p1bg)"/>
<polygon points="68.5,649.2 267.5,648.2 270.5,706.5 54.6,709" fill="#efebe7"/>
<path d="M70,650.6 L266,649.8" stroke="#7fb8cc" stroke-width="1.2"/>
<path d="M68,656.2 L266.5,655.6" stroke="#d89aa6" stroke-width="1.1"/>
<path d="M57.5,695.6 L269.5,694.8" stroke="#8fc0d0" stroke-width="1.2"/>
<path d="M56.2,704.6 L270,703.8" stroke="#d89aa6" stroke-width="1.1"/>
<polygon points="67.5,652 266.5,651.4 266.7,654.6 67.3,655.2" fill="url(#p1h)" opacity="0.7"/>
<polygon points="66.8,658.2 267,657.6 267.8,673.3 64.8,674" fill="url(#p1h)" opacity="0.85"/>
<polygon points="63.8,678.6 268,678 268.8,693 61.6,693.8" fill="url(#p1h)" opacity="0.85"/>
<polygon points="61,697.2 269.4,696.6 269.6,702.6 60.2,703.2" fill="url(#p1h)" opacity="0.7"/>
<path d="M65.5,675.6 L268,675" stroke="#d8d4d0" stroke-width="2.6"/>
<polygon points="60.5,667.6 113.6,666.8 114,685.6 60.2,686.4" fill="#1d3f73"/>
<path d="M63,669.6 H112" stroke="#a0a8b0" stroke-width="1.4" stroke-dasharray="1.2 1.8"/>
<path d="M63,684.3 H112" stroke="#a0a8b0" stroke-width="1.4" stroke-dasharray="1.2 1.8"/>
<polygon points="77.5,671 82.5,676 77.5,681 72.5,676" fill="#0b1526"/>
<rect x="90" y="673.5" width="3" height="4" fill="#d0d8e0"/>
<rect x="41" y="669.2" width="13" height="12.6" fill="#1a1a1a"/>
<rect x="53" y="670.2" width="14" height="10.5" fill="#b4b8bc"/>
<rect x="54" y="672.3" width="12" height="2" fill="#dde1e4"/>
<polygon points="190.8,635.4 211.7,635.2 205.5,652 204.5,666 188,666 189,650" fill="#1d3658"/>
<polygon points="191.5,636 211,636 209.5,640 192,640" fill="#3a6a6e" opacity="0.8"/>
<rect x="195.5" y="641" width="9" height="13" fill="#0e1828"/>
<rect x="188.5" y="655" width="16" height="11" fill="#141a22"/>
<path d="M211,641.5 C225,641 235,642 245,642.5 L266,643 L276,646" stroke="#2d9a3e" stroke-width="3" fill="none"/>
<path d="M238,641.6 C246,638.5 258,638.8 266,641.5 L266,647.5 C256,649.5 246,648.5 238,645.4 Z" fill="#2fa344"/>
<path d="M88.5,655 C88,630 95,600 110,586 C122,575 135,571 147,571.5 C165,572 185,578 203,596 C220,614 232,636 235.6,656" stroke="#e4887a" stroke-width="1.6" fill="none" stroke-linecap="round" opacity="1.0"/>
<path d="M96,653 C97,630 103,618 120,613 C140,609 165,612 180,620 C190,626 194,634 197,640" stroke="#2a7a9c" stroke-width="1.8" fill="none" stroke-linecap="round" opacity="1.0"/>
<path d="M99,653 C102,640 106,632 118,628 C130,624 148,627 154,637 C156,642 157,648 157,654" stroke="#2f8fa8" stroke-width="1.7" fill="none" stroke-linecap="round" opacity="1.0"/>
<path d="M167,654 C160,640 156,630 164,626 C172,623 183,628 191,640" stroke="#2f8fa8" stroke-width="1.7" fill="none" stroke-linecap="round" opacity="1.0"/>
<path d="M176,654 C172,640 173,628 180,620 C185,614 192,616 191,625 C189,635 182,642 178,648" stroke="#2a2a2a" stroke-width="1.6" fill="none" stroke-linecap="round" opacity="1.0"/>
<path d="M86,654 C85,642 86,635 92,635 C108,634 122,639 132,646" stroke="#ece08a" stroke-width="1.9" fill="none" stroke-linecap="round" opacity="1.0"/>
<path d="M89,654 C90,645 93,639 100,637 C112,635 126,641 133,648 C137,652 139,657 139,663" stroke="#ece08a" stroke-width="1.9" fill="none" stroke-linecap="round" opacity="1.0"/>
<path d="M266,643 C262,630 275,625 292,632 C306,638 312,648 306,658 C298,668 282,666 272,656" stroke="#2f8fa8" stroke-width="1.6" fill="none" stroke-linecap="round" opacity="1.0"/>
<path d="M258,655 C275,650 300,643 322,645" stroke="#2f8fa8" stroke-width="1.5" fill="none" stroke-linecap="round" opacity="1.0"/>
<path d="M250,657 C270,648 290,640 310,648" stroke="#2f8fa8" stroke-width="1.4" fill="none" stroke-linecap="round" opacity="1.0"/>
<path d="M205,661.5 C212,666 211,676 202,682 C190,688 165,688 145.3,681" stroke="#cc3d5a" stroke-width="1.8" fill="none" stroke-linecap="round" opacity="1.0"/>
<path d="M113.6,685.8 C98,688 89,696 93,706 C98,714 112,712 123.3,702.5" stroke="#cc3d5a" stroke-width="1.7" fill="none" stroke-linecap="round" opacity="1.0"/>
<path d="M203.6,656.7 C210,652 218,652 223,662 C227,675 225,688 213.3,697" stroke="#2a2a2a" stroke-width="1.7" fill="none" stroke-linecap="round" opacity="1.0"/>
<path d="M114.4,654 L114.4,668" stroke="#cc3d5a" stroke-width="1.6" fill="none" stroke-linecap="round" opacity="1.0"/>
<rect x="85.2" y="652.4" width="3.6" height="7.2" rx="0.8" fill="#1c1c1c"/>
<rect x="90.2" y="652.4" width="3.6" height="7.2" rx="0.8" fill="#1c1c1c"/>
<rect x="95.2" y="652.4" width="3.6" height="7.2" rx="0.8" fill="#1c1c1c"/>
<rect x="100.2" y="652.4" width="3.6" height="7.2" rx="0.8" fill="#1c1c1c"/>
<rect x="155.2" y="652.9" width="3.6" height="7.2" rx="0.8" fill="#1c1c1c"/>
<rect x="165.0" y="652.9" width="3.6" height="7.2" rx="0.8" fill="#1c1c1c"/>
<rect x="174.0" y="652.9" width="3.6" height="7.2" rx="0.8" fill="#1c1c1c"/>
<rect x="232.89999999999998" y="653.4" width="3.6" height="7.2" rx="0.8" fill="#1c1c1c"/>
<rect x="243.29999999999998" y="653.4" width="3.6" height="7.2" rx="0.8" fill="#1c1c1c"/>
<rect x="251.0" y="654.4" width="3.6" height="7.2" rx="0.8" fill="#1c1c1c"/>
<rect x="117.2" y="656.4" width="3.6" height="7.2" rx="0.8" fill="#1c1c1c"/>
<rect x="137.2" y="660.4" width="3.6" height="7.2" rx="0.8" fill="#1c1c1c"/>
<rect x="211.5" y="693.4" width="3.6" height="7.2" rx="0.8" fill="#1c1c1c"/>
<rect x="143.2" y="677.4" width="3.6" height="7.2" rx="0.8" fill="#1c1c1c"/>
<rect x="144.2" y="683.4" width="3.6" height="7.2" rx="0.8" fill="#1c1c1c"/>
<rect x="102.2" y="696.4" width="3.6" height="7.2" rx="0.8" fill="#1c1c1c"/>
<rect x="108.2" y="696.4" width="3.6" height="7.2" rx="0.8" fill="#1c1c1c"/>
<rect x="84.5" y="652.5" width="19" height="8" fill="#1c1c1c"/>
</g>
<defs>
<pattern id="p2h" x="0" y="0" width="4.1" height="3.8" patternUnits="userSpaceOnUse"><rect x="1.2499999999999998" y="1.0999999999999999" width="1.6" height="1.6" fill="#8a8c88"/></pattern>
<clipPath id="p2clip"><rect x="381" y="567.5" width="283" height="148.5"/></clipPath>
</defs>
<g clip-path="url(#p2clip)">
<rect x="381" y="567.5" width="283" height="148.5" fill="#0c6667"/>
<rect x="381" y="567.5" width="283" height="1.4" fill="#083c3e"/>
<path d="M381,590 L664,594.5" stroke="#3aa2a2" stroke-width="0.9" opacity="0.75"/>
<path d="M381,620.5 L664,623.5" stroke="#3aa2a2" stroke-width="0.9" opacity="0.75"/>
<path d="M560,661 L664,660" stroke="#3aa2a2" stroke-width="0.9" opacity="0.6"/>
<path d="M420,567.5 L385,650" stroke="#3aa2a2" stroke-width="0.9" opacity="0.6"/>
<path d="M448,567.5 L400,690" stroke="#3aa2a2" stroke-width="0.9" opacity="0.6"/>
<path d="M519,567.5 L517,640" stroke="#3aa2a2" stroke-width="0.9" opacity="0.6"/>
<path d="M567,567.5 L569,640" stroke="#3aa2a2" stroke-width="0.9" opacity="0.6"/>
<path d="M611,567.5 L654,668" stroke="#3aa2a2" stroke-width="0.9" opacity="0.6"/>
<path d="M655,567.5 L664,600" stroke="#3aa2a2" stroke-width="0.9" opacity="0.6"/>
<path d="M470,567.5 L460,640" stroke="#3aa2a2" stroke-width="0.9" opacity="0.6"/>
<path d="M583,600 C590,580 625,570 640,578 C652,586 640,600 620,612 C600,624 590,630 585,640" stroke="#3aa2a2" stroke-width="1.0" fill="none" stroke-linecap="round" opacity="0.75"/>
<path d="M620,588 C636,584 642,596 632,610 C625,620 612,626 600,628" stroke="#3aa2a2" stroke-width="1.0" fill="none" stroke-linecap="round" opacity="0.75"/>
<path d="M596,628 C610,622 630,615 650,610" stroke="#3aa2a2" stroke-width="0.9" fill="none" stroke-linecap="round" opacity="0.6"/>
<ellipse cx="409" cy="575.0" rx="5" ry="2.8" fill="none" stroke="#3aa2a2" stroke-width="0.7" opacity="0.55"/>
<ellipse cx="406" cy="586.5" rx="5" ry="2.8" fill="none" stroke="#3aa2a2" stroke-width="0.7" opacity="0.55"/>
<ellipse cx="403" cy="598.0" rx="5" ry="2.8" fill="none" stroke="#3aa2a2" stroke-width="0.7" opacity="0.55"/>
<ellipse cx="400" cy="609.5" rx="5" ry="2.8" fill="none" stroke="#3aa2a2" stroke-width="0.7" opacity="0.55"/>
<ellipse cx="397" cy="621.0" rx="5" ry="2.8" fill="none" stroke="#3aa2a2" stroke-width="0.7" opacity="0.55"/>
<ellipse cx="394" cy="632.5" rx="5" ry="2.8" fill="none" stroke="#3aa2a2" stroke-width="0.7" opacity="0.55"/>
<path d="M443,642 C430,625 424,600 432,585 C442,570 470,566 490,574 C500,580 506,592 507,606" stroke="#2a5ca8" stroke-width="1.3" fill="none" stroke-linecap="round" opacity="1.0"/>
<path d="M426.6,611 C430,598 440,592 448,595 C458,600 464,612 467,624 L470,642" stroke="#2aa6b4" stroke-width="1.2" fill="none" stroke-linecap="round" opacity="1.0"/>
<path d="M462,642 C460,620 468,605 478,604 C490,604 496,618 498,640" stroke="#2aa6b4" stroke-width="1.2" fill="none" stroke-linecap="round" opacity="1.0"/>
<path d="M478,604 C484,600 490,602 500,608" stroke="#2aa6b4" stroke-width="1.0" fill="none" stroke-linecap="round" opacity="1.0"/>
<polygon points="410,640.8 636,642 646,668 653,688 658.4,706 658.4,714 384,714 384.2,703.3 391.9,682.5" fill="#ececea"/>
<polygon points="385.5,704.5 658,704.5 658.4,714.2 384,714.2" fill="#d9dddd"/>
<path d="M384,715 H660" stroke="#1a2c2c" stroke-width="1.6"/>
<polygon points="409,644 637,645 644,664 401,664" fill="url(#p2h)" opacity="0.7"/>
<polygon points="399,670 646,670 652,686 394,686" fill="url(#p2h)" opacity="0.75"/>
<polygon points="390,694.5 655,694.5 656,700 389,700" fill="url(#p2h)" opacity="0.75"/>
<path d="M397,667.5 L648,667.5" stroke="#d8d8d4" stroke-width="2.4"/>
<path d="M388,690 L655,690" stroke="#dcdcd8" stroke-width="2"/>
<rect x="418.9" y="706" width="1.6" height="8" fill="#4a4a4a"/>
<rect x="487.2" y="706" width="1.6" height="8" fill="#4a4a4a"/>
<rect x="555.2" y="706" width="1.6" height="8" fill="#4a4a4a"/>
<rect x="619.2" y="706" width="1.6" height="8" fill="#4a4a4a"/>
<rect x="380.8" y="653.3" width="11.8" height="18" fill="#161616"/>
<rect x="392.6" y="656" width="13" height="11" fill="#a8acb0"/>
<polygon points="406.5,656.8 462.7,656 463,677 406,677.8" fill="#2c5d96"/>
<path d="M407,678.6 H462" stroke="#1a1a1a" stroke-width="1.8"/>
<path d="M408,658.2 H461" stroke="#7890b0" stroke-width="1.2" stroke-dasharray="1.2 1.6"/>
<polygon points="420,661.5 425.5,667 420,672.5 414.5,667" fill="#0e1b30"/>
<rect x="411" y="660" width="3" height="2" fill="#8fb0d0"/>
<rect x="436" y="664" width="3" height="2" fill="#8fb0d0"/>
<rect x="448" y="660" width="2" height="3" fill="#8fb0d0"/>
<rect x="441" y="670" width="4" height="2" fill="#8fb0d0"/>
<rect x="431" y="672" width="3" height="2" fill="#8fb0d0"/>
<rect x="452" y="668" width="3" height="3" fill="#8fb0d0"/>
<rect x="428" y="662" width="2" height="2" fill="#8fb0d0"/>
<rect x="498.5" y="605.3" width="23" height="36" fill="#2a6a84"/>
<rect x="500" y="606.5" width="20" height="9" fill="#6f9a98"/>
<rect x="508.2" y="617.8" width="10.4" height="20.8" fill="#0c0f12"/>
<rect x="500" y="618" width="6" height="20" fill="#3a7484"/>
<rect x="503.3" y="639.4" width="19.5" height="22.3" fill="#141414"/>
<rect x="505.5" y="645" width="1" height="16" fill="#2e2e2e"/>
<rect x="509" y="645" width="1" height="16" fill="#2e2e2e"/>
<rect x="512.5" y="645" width="1" height="16" fill="#2e2e2e"/>
<rect x="516" y="645" width="1" height="16" fill="#2e2e2e"/>
<rect x="519.5" y="645" width="1" height="16" fill="#2e2e2e"/>
<path d="M521.4,617 C535,617.5 548,619 560,621.5 L575,624" stroke="#2ea044" stroke-width="2.6" fill="none"/>
<polygon points="552,618 560,616 570,618 580,622 585,630 582,638 574,642 562,640 555,632" fill="#2a9c44"/>
<path d="M578,656 L578,640 C578,636 580,634.5 584,634.5 L588,634.5 C592,635 594,637 596,639" stroke="#1e1e1e" stroke-width="2.2" fill="none" stroke-linecap="round" opacity="1.0"/>
<rect x="580.5" y="641" width="2" height="12" fill="#8a8e90"/>
<path d="M437,641 C440,612 455,592 480,586 C500,581 520,592 532,602 C545,614 558,628 568,650" stroke="#bfe06a" stroke-width="1.7" fill="none" stroke-linecap="round" opacity="1.0"/>
<path d="M481.8,585.8 C484,608 486,626 488,645" stroke="#121212" stroke-width="1.3" fill="none" stroke-linecap="round" opacity="1.0"/>
<path d="M392.6,661.7 C390,648 394,636 405.8,632.5 C418,630 428,638 434,648 C439,656 441,664 441.9,672" stroke="#c8405a" stroke-width="1.7" fill="none" stroke-linecap="round" opacity="1.0"/>
<path d="M398.8,671.4 C405,676 412,678 423.8,682.5" stroke="#c8405a" stroke-width="1.5" fill="none" stroke-linecap="round" opacity="1.0"/>
<path d="M421,643.6 C416,638 410,638 407,645 C403,655 404,670 408.6,678.3 C412,683 418,684 425.2,684" stroke="#121212" stroke-width="1.6" fill="none" stroke-linecap="round" opacity="1.0"/>
<path d="M418.3,639.4 C428,638 438,642 442,652 C446,662 447,670 448.8,676" stroke="#121212" stroke-width="1.6" fill="none" stroke-linecap="round" opacity="1.0"/>
<path d="M391.9,633.9 C388,638 385,644 383.6,650.6" stroke="#121212" stroke-width="1.4" fill="none" stroke-linecap="round" opacity="1.0"/>
<path d="M517.2,636.7 C506,640 497.8,646 492.5,655 C490,662 490.5,667 492.2,670" stroke="#c8405a" stroke-width="1.7" fill="none" stroke-linecap="round" opacity="1.0"/>
<path d="M521.4,638 C510,642 501,648 496,657 C492,666 496,674 503,681" stroke="#121212" stroke-width="1.7" fill="none" stroke-linecap="round" opacity="1.0"/>
<path d="M523.5,645.7 L531,646.4" stroke="#121212" stroke-width="1.8" fill="none" stroke-linecap="round" opacity="1.0"/>
<path d="M591.1,655 C593,645 600,638 612,635.5 C625,633 636,634 640,640 C644,648 640,660 632,672 C626,680 620,686 615,692" stroke="#121212" stroke-width="1.6" fill="none" stroke-linecap="round" opacity="1.0"/>
<rect x="396.7" y="683.9" width="4.2" height="11" rx="1.2" fill="#161616" transform="rotate(-25 398.8 689.4)"/>
<rect x="425.9" y="684.8" width="4.2" height="12" rx="1.2" fill="#161616" transform="rotate(-15 428 690.8)"/>
<rect x="440.5" y="672.8" width="4.2" height="11" rx="1.2" fill="#161616" transform="rotate(0 442.6 678.3)"/>
<rect x="448.09999999999997" y="674.2" width="4.2" height="11" rx="1.2" fill="#161616" transform="rotate(0 450.2 679.7)"/>
<rect x="418.9" y="641.5" width="4.2" height="9" rx="1.2" fill="#161616" transform="rotate(-15 421 646)"/>
<rect x="436.9" y="642.0" width="4.2" height="12" rx="1.2" fill="#161616" transform="rotate(0 439 648)"/>
<rect x="440.9" y="642.0" width="4.2" height="12" rx="1.2" fill="#161616" transform="rotate(0 443 648)"/>
<rect x="444.9" y="642.0" width="4.2" height="12" rx="1.2" fill="#161616" transform="rotate(0 447 648)"/>
<rect x="467.59999999999997" y="640.9" width="4.2" height="11" rx="1.2" fill="#161616" transform="rotate(-10 469.7 646.4)"/>
<rect x="478.29999999999995" y="652.5" width="4.2" height="13" rx="1.2" fill="#161616" transform="rotate(0 480.4 659)"/>
<rect x="469.29999999999995" y="648.0" width="4.2" height="9" rx="1.2" fill="#161616" transform="rotate(0 471.4 652.5)"/>
<rect x="490.79999999999995" y="645.5" width="4.2" height="9" rx="1.2" fill="#161616" transform="rotate(0 492.9 650)"/>
<rect x="505.4" y="684.0" width="4.2" height="15" rx="1.2" fill="#161616" transform="rotate(-25 507.5 691.5)"/>
<rect x="566.8" y="653.5" width="4.2" height="13" rx="1.2" fill="#161616" transform="rotate(0 568.9 660)"/>
<rect x="589.0" y="653.5" width="4.2" height="13" rx="1.2" fill="#161616" transform="rotate(0 591.1 660)"/>
<rect x="611.1999999999999" y="686.0" width="4.2" height="13" rx="1.2" fill="#161616" transform="rotate(0 613.3 692.5)"/>
<rect x="517.2" y="693.6" width="15.3" height="5.6" rx="1.5" fill="#b83a48"/>
<rect x="519" y="695.6" width="12" height="1.4" fill="#e6a0a8"/>
</g>
</svg></body></html>
